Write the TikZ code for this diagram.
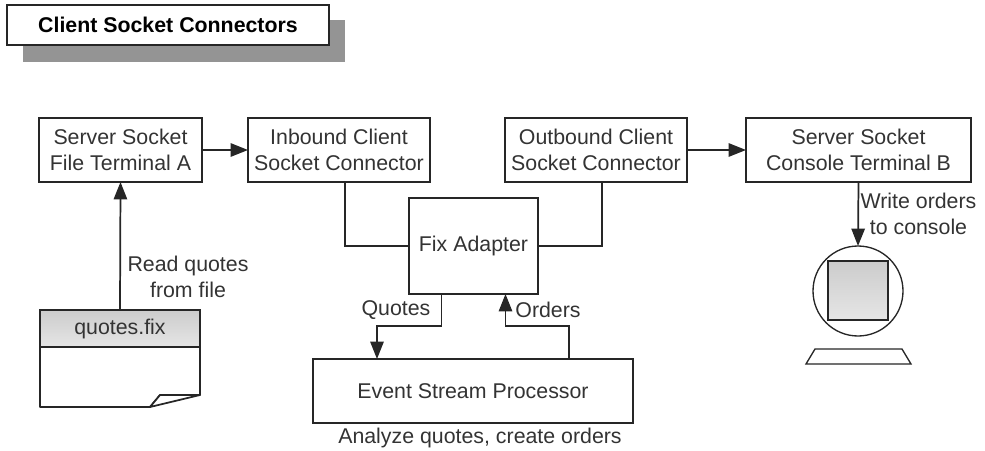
\documentclass[tikz,border=0pt]{standalone}
\usepackage{fontspec}
\setmainfont{Liberation Sans}
\usetikzlibrary{arrows.meta}
\tikzset{
  boxnode/.style={draw=black!85,line width=1.3pt,fill=white,outer sep=0pt,inner sep=0pt,align=center,
    font=\fontsize{16}{20}\selectfont,text=black!80},
  labelnode/.style={inner sep=0pt,align=center,font=\fontsize{16}{20}\selectfont,text=black!80},
  conn/.style={draw=black!85,line width=1.3pt},
  flow/.style={conn,-{Triangle[length=13pt,width=10pt]}},
  greyfill/.style={top color=black!20,bottom color=black!10}
}
\begin{document}
\begin{tikzpicture}[x=0.75pt,y=-0.75pt]
  \useasboundingbox (0,0) rectangle (985,450);
  % Title with its shadow
  \fill[black!42] (23,20) rectangle (345,62);
  \node[boxnode,minimum width=241.5pt,minimum height=30pt,font=\fontsize{16}{18}\selectfont\bfseries,text=black] (title) at (168,25) {Client Socket Connectors};
  % Top row
  \node[boxnode,minimum width=122.25pt,minimum height=48pt] (serverA) at (120.5,150) {Server Socket\\File Terminal A};
  \node[boxnode,minimum width=136.5pt,minimum height=48pt] (inbound) at (339,150) {Inbound Client\\Socket Connector};
  \node[boxnode,minimum width=136.5pt,minimum height=48pt] (outbound) at (596,150) {Outbound Client\\Socket Connector};
  \node[boxnode,minimum width=168.75pt,minimum height=48pt] (serverB) at (858.5,150) {Server Socket\\Console Terminal B};
  % Adapter and processor
  \node[boxnode,minimum width=96.75pt,minimum height=72pt] (adapter) at (473.5,246) {Fix Adapter};
  \node[boxnode,minimum width=240pt,minimum height=48pt] (processor) at (473,391) {Event Stream Processor};
  % File with folded corner
  \draw[conn,fill=white,line join=round] (40,347) -- (40,407) -- (150,407) -- (160,395) -- (200,395) -- (200,347) -- cycle;
  \draw[conn,fill=white,line join=round] (150,407) -- (160,395) -- (200,395) -- cycle;
  \node[boxnode,greyfill,minimum width=120pt,minimum height=27.75pt] (quotes) at (120,328.5) {quotes.fix};
  % Monitor
  \node[draw=black!85,line width=1pt,circle,fill=white,outer sep=0pt,inner sep=0pt,minimum size=67.5pt] (monitor) at (858,291) {};
  \node[draw=black!85,line width=1.3pt,greyfill,outer sep=0pt,inner sep=0pt,minimum width=45pt,minimum height=44.25pt] (screen) at (858,290.5) {};
  \draw[conn,line width=1pt,fill=white] (806,364) -- (815,349) -- (902,349) -- (911,364) -- cycle;
  % Connectors
  \draw[flow] (quotes.north) -- (serverA.south);
  \draw[flow] (serverA.east) -- (inbound.west);
  \draw[flow] (outbound.east) -- (serverB.west);
  \draw[flow] (serverB.south) -- (monitor.north);
  \draw[conn] ([xshift=4.5pt]inbound.south) |- (adapter.west);
  \draw[conn] ([xshift=4.5pt]outbound.south) |- (adapter.east);
  \draw[flow] ([xshift=-24pt]adapter.south) -- ++(0,32) -| ([xshift=-72pt]processor.north);
  \draw[flow] ([xshift=72pt]processor.north) -- ++(0,-33) -| ([xshift=24pt]adapter.south);
  % Labels
  \node[labelnode] (readlabel) at (188,277) {Read quotes\\from file};
  \node[labelnode] (writelabel) at (918.5,214) {Write orders\\to console};
  \node[labelnode] (quoteslabel) at (396,310) {Quotes};
  \node[labelnode] (orderslabel) at (548,310) {Orders};
  \node[labelnode] (analyzelabel) at (480,438) {Analyze quotes, create orders};
\end{tikzpicture}
\end{document}
